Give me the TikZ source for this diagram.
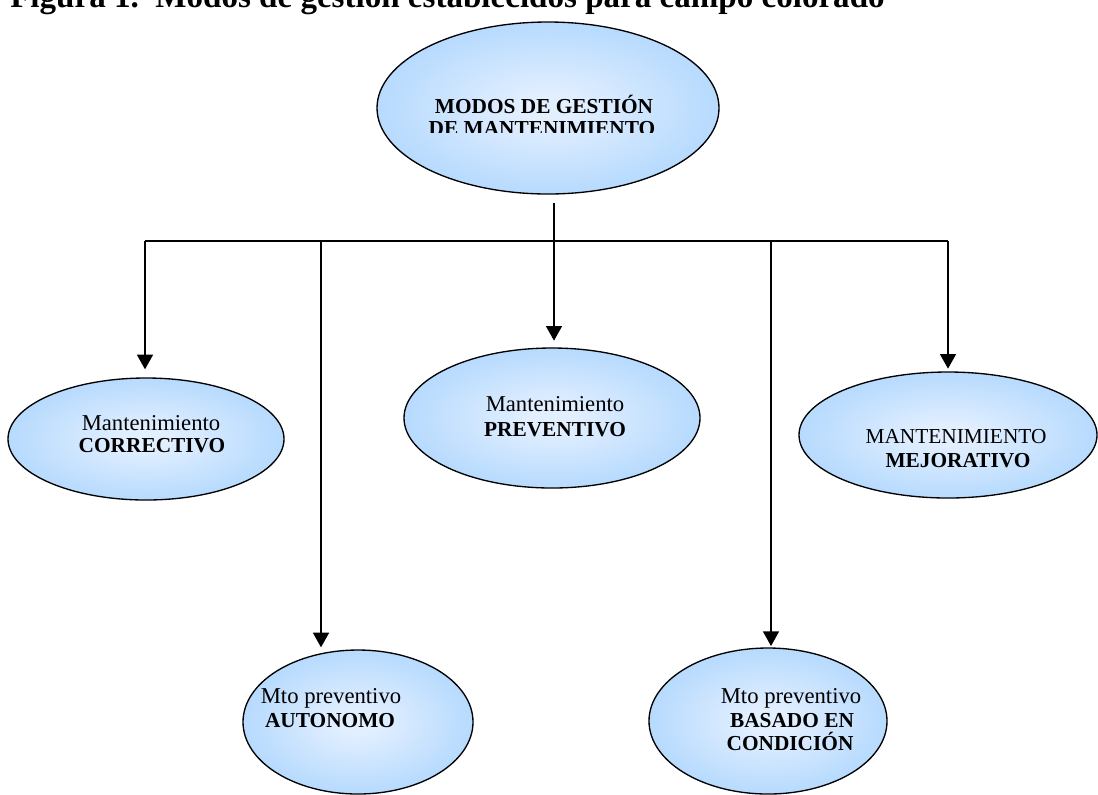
\documentclass[tikz,border=0pt]{standalone}
\usepackage{fontspec}
\setmainfont{Liberation Serif}
\usetikzlibrary{shapes.geometric,arrows.meta}

\definecolor{glowin}{RGB}{226,239,255}
\definecolor{glowout}{RGB}{151,203,253}
\pgfdeclareradialshading{blueglow}{\pgfpoint{0bp}{0bp}}{%
  color(0bp)=(glowin); color(4bp)=(glowin); color(40bp)=(glowout); color(50bp)=(glowout)}

\tikzset{
  mode/.style={ellipse, draw=black, line width=1pt, shade, shading=blueglow, inner sep=0pt},
  lbl/.style={anchor=base, inner sep=0pt, font=\fontsize{17}{20}\selectfont},
  lblcaps/.style={anchor=base, inner sep=0pt, font=\fontsize{16}{19}\selectfont},
  lblb/.style={anchor=base, inner sep=0pt, font=\fontsize{16}{19}\selectfont\bfseries},
  link/.style={line width=1.2pt},
  arr/.style={link, -{Triangle[length=11pt,width=12pt]}},
}

\begin{document}
\begin{tikzpicture}[x=0.75pt,y=-0.75pt]
\clip (0,0) rectangle (1098,794);

% caption
\node[anchor=base west, inner sep=0pt, font=\fontsize{24.8}{28}\selectfont\bfseries]
  (title) at (10,7) {Figura 1.\ \ Modos de gestión establecidos para campo colorado};

% ellipses
\node[mode, minimum width=256.5pt, minimum height=129pt] (top)  at (548,108) {};
\node[mode, minimum width=207pt,   minimum height=91.5pt] (corr) at (146,439) {};
\node[mode, minimum width=222pt,   minimum height=105pt] (prev) at (552,418) {};
\node[mode, minimum width=223.5pt, minimum height=94.5pt] (mejo) at (948,435) {};
\node[mode, minimum width=172.5pt, minimum height=108pt] (auto) at (358,722) {};
\node[mode, minimum width=178.5pt, minimum height=109.5pt] (basa) at (768,721) {};

% labels
\node[lblb] (topA) at (544,113) {MODOS DE GESTIÓN};
\begin{scope}
  \clip (377,0) rectangle (719,132);
  \node[lblb] (topB) at (542,135) {DE MANTENIMIENTO};
\end{scope}

\node[lbl]  (corrA) at (151,430) {Mantenimiento};
\node[lblb] (corrB) at (152,452) {CORRECTIVO};

\node[lbl]  (prevA) at (555,411) {Mantenimiento};
\node[lblb] (prevB) at (555,436) {PREVENTIVO};

\node[lblcaps] (mejoA) at (956,443) {MANTENIMIENTO};
\node[lblb]    (mejoB) at (958,467) {MEJORATIVO};

\node[lbl]  (autoA) at (331,703) {Mto preventivo};
\node[lblb] (autoB) at (330,727) {AUTONOMO};

\node[lbl]  (basaA) at (791,703) {Mto preventivo};
\node[lblb] (basaB) at (792,727) {BASADO EN};
\node[lblb] (basaC) at (790,750) {CONDICIÓN};

% distribution bar
\coordinate (b1) at (145,241);
\coordinate (b2) at (321,241);
\coordinate (b3) at (554,241);
\coordinate (b4) at (771,241);
\coordinate (b5) at (948,241);

\draw[link, shorten <=6pt] (b3 |- top.south) -- (b3);
\draw[link] (b1) -- (b5);
\draw[line width=2pt] (b3) -- ++(42,0);

% branches
\draw[arr, shorten >=6pt]   (b1) -- (b1 |- corr.north);
\draw[arr, shorten >=5pt]   (b3) -- (b3 |- prev.north);
\draw[arr, shorten >=2pt]   (b5) -- (b5 |- mejo.north);
\draw[arr, shorten >=1.5pt] (b2) -- (b2 |- auto.north);
\draw[arr, shorten >=1pt]   (b4) -- (b4 |- basa.north);
\end{tikzpicture}
\end{document}
